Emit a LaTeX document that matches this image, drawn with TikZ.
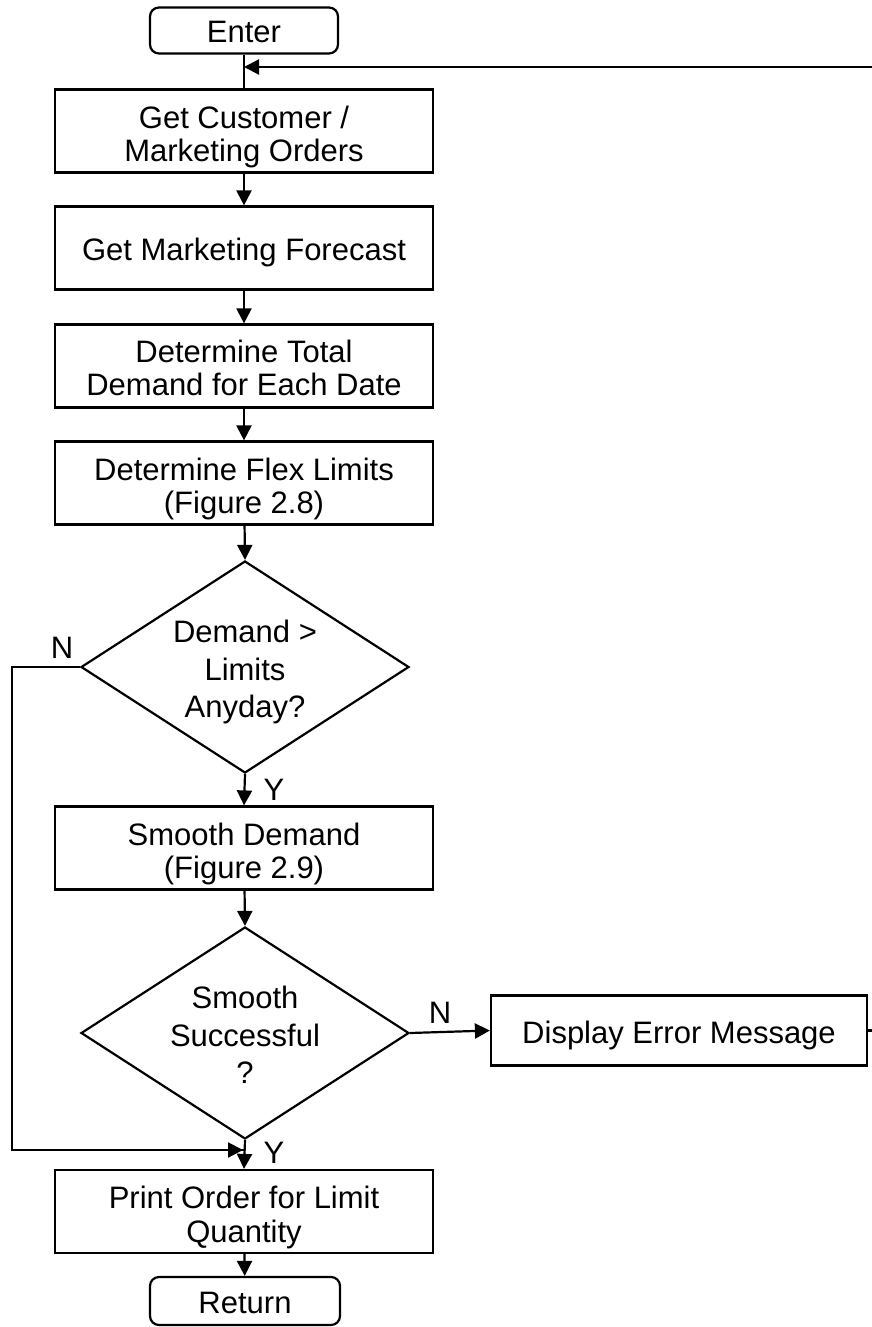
\documentclass[tikz,border=0pt]{standalone}
\usepackage{fontspec}
\setmainfont{Liberation Sans}
\usetikzlibrary{shapes.geometric,arrows.meta}
% a descender-depth strut so that every text block has the same depth
\newcommand{\lastdepth}{\vphantom{g}}
\begin{document}
\begin{tikzpicture}[x=1pt,y=-1pt,
  txt/.style={font=\fontsize{31}{33.5}\selectfont, align=center, inner sep=0pt},
  dtxt/.style={font=\fontsize{31}{37.5}\selectfont, align=center, inner sep=0pt},
  line/.style={line width=2.2pt},
  arr/.style={line width=2.2pt, -{Triangle[length=15pt,width=15pt]}},
  procbox/.style={draw, line width=2.2pt, minimum width=378pt, minimum height=83pt, inner sep=0pt},
  termbox/.style={draw, line width=2.2pt, rounded corners=9pt, minimum width=188pt, minimum height=46pt, inner sep=0pt},
  decision/.style={draw, diamond, line width=2.2pt, minimum width=328pt, minimum height=212pt, inner sep=0pt}]
\useasboundingbox (0,0) rectangle (872,1327);

% shapes of the main column
\node[termbox] (enter) at (244,30.5) {};
\node[procbox] (orders) at (244,131) {};
\node[procbox] (forecast) at (244,248) {};
\node[procbox] (demand) at (244,366) {};
\node[procbox] (flex) at (244,483) {};
\node[decision] (over) at (245,667) {};
\node[procbox] (smooth) at (244,848) {};
\node[decision] (ok) at (245,1033) {};
\node[procbox] (print) at (244,1211.5) {};
\node[termbox, minimum width=190pt, minimum height=48pt] (ret) at (245,1301) {};
\node[procbox, minimum width=376pt, minimum height=70pt] (err) at (679,1030.5) {};

% texts, set a little below the geometric centres
\node[txt] (enter-t) at ([yshift=-5pt]enter) {Enter\lastdepth};
\node[txt] (orders-t) at ([yshift=-6pt]orders) {Get Customer /\\Marketing Orders\lastdepth};
\node[txt] (forecast-t) at ([yshift=-4.5pt]forecast) {Get Marketing Forecast\lastdepth};
\node[txt] (demand-t) at ([yshift=-5pt]demand) {Determine Total\\Demand for Each Date\lastdepth};
\node[txt] (flex-t) at ([yshift=-6pt]flex) {Determine Flex Limits\\(Figure 2.8)\lastdepth};
\node[dtxt] (over-t) at ([yshift=-5pt]over) {Demand {>}\\Limits\\Anyday?\lastdepth};
\node[txt] (smooth-t) at ([yshift=-6pt]smooth) {Smooth Demand\\(Figure 2.9)\lastdepth};
\node[dtxt] (ok-t) at ([yshift=-5pt]ok) {Smooth\\Successful\\?\lastdepth};
\node[txt] (print-t) at ([yshift=-6pt]print) {Print Order for Limit\\Quantity\lastdepth};
\node[txt] (ret-t) at ([yshift=-5pt]ret) {Return\lastdepth};
\node[txt] (err-t) at ([yshift=-5pt]err) {Display Error Message\lastdepth};

% loop-back ends at the right margin
\coordinate (errout) at (873,1030.5);
\coordinate (loopin) at (873,67);
\coordinate (skipcorner) at (12,667);
\coordinate (skipbottom) at (12,1150);
\coordinate (skipjoin) at (245,1150);

% connectors
\draw[line] (enter.south) -- (orders.north);
\draw[arr] (loopin) -- (loopin -| enter.south);
\draw[arr] (orders) -- (forecast);
\draw[arr] (forecast) -- (demand);
\draw[arr] (demand) -- (flex);
\draw[arr] (flex) -- (over.north);
\draw[arr] (over.south) -- (smooth.north);
\draw[arr] (smooth) -- (ok.north);
\draw[arr] (ok.south) -- (print.north);
\draw[arr] (print) -- (ret);
\draw[arr] (ok.east) -- (err.west);
\draw[line] (err.east) -- (errout);
\draw[line] (over.west) -- (skipcorner) -- (skipbottom) -- (skipjoin);
\draw[arr] (skipbottom) -- ([xshift=-2pt]skipjoin);

% branch labels
\node[txt] (nover) at (62,648) {N};
\node[txt] (yover) at (274,790) {Y};
\node[txt] (nok) at (440,1013) {N};
\node[txt] (yok) at (274,1153) {Y};
\end{tikzpicture}
\end{document}
